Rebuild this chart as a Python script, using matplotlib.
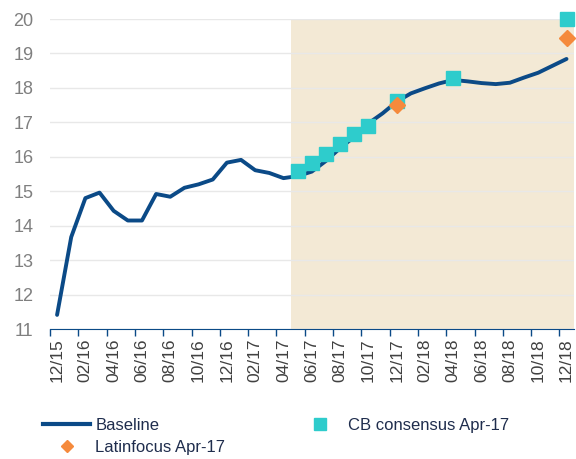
import numpy as np
import matplotlib.pyplot as plt
from matplotlib.lines import Line2D

plt.rcParams['font.family'] = ['Liberation Sans', 'DejaVu Sans']

# monthly categories 12/15 .. 12/18
months = ["12/15", "01/16", "02/16", "03/16", "04/16", "05/16", "06/16", "07/16",
          "08/16", "09/16", "10/16", "11/16", "12/16", "01/17", "02/17", "03/17",
          "04/17", "05/17", "06/17", "07/17", "08/17", "09/17", "10/17", "11/17",
          "12/17", "01/18", "02/18", "03/18", "04/18", "05/18", "06/18", "07/18",
          "08/18", "09/18", "10/18", "11/18", "12/18"]

baseline = [11.41, 13.67, 14.80, 14.96, 14.43, 14.15, 14.15, 14.92, 14.84, 15.10,
            15.20, 15.34, 15.83, 15.91, 15.61, 15.53, 15.38, 15.44, 15.57, 15.88,
            16.25, 16.58, 16.97, 17.26, 17.60, 17.84, 17.99, 18.13, 18.23, 18.19,
            18.14, 18.11, 18.15, 18.30, 18.44, 18.64, 18.84]

cb_months = ["05/17", "06/17", "07/17", "08/17", "09/17", "10/17", "12/17", "04/18", "12/18"]
cb_values = [15.60, 15.81, 16.09, 16.38, 16.67, 16.90, 17.62, 18.30, 20.0]

lf_months = ["12/17", "12/18"]
lf_values = [17.49, 19.45]

forecast_start = "05/17"

navy = "#0B4A87"
teal = "#2ECCCC"
orange = "#F58A3C"
shade = "#F3E9D5"

x = np.arange(len(months))
idx = {m: i for i, m in enumerate(months)}

fig = plt.figure(figsize=(5.76, 4.59), dpi=100)
ax = fig.add_axes([0.0868, 0.2832, 0.9090, 0.6754])

ax.axvspan(idx[forecast_start] - 0.5, len(months) - 0.5, color=shade, lw=0, zorder=0)
ax.plot(x, baseline, color=navy, lw=2.8, zorder=3, solid_capstyle='round', clip_on=False)
ax.plot([idx[m] for m in cb_months], cb_values, 's', color=teal, ms=10, zorder=4, clip_on=False)
ax.plot([idx[m] for m in lf_months], lf_values, 'D', color=orange, ms=8.5, zorder=5, clip_on=False)

ax.set_xlim(-0.5, len(months) - 0.5)
ax.set_ylim(11, 20)
ax.set_yticks(range(11, 21))
ax.yaxis.grid(True, color="#E8E8E8", lw=1)
ax.set_axisbelow(True)
ax.tick_params(axis='y', length=0, pad=12, labelsize=13, labelcolor="#7F7F7F")

ax.set_xticks(x[::2])
ax.set_xticklabels(months[::2], rotation=90)
ax.set_xticks(np.arange(-0.5, len(months) - 1, 2), minor=True)
ax.tick_params(axis='x', which='major', length=0, pad=7, labelsize=12.5, labelcolor="#404040")
ax.tick_params(axis='x', which='minor', length=5, color=navy, width=1)

for s in ['top', 'right', 'left']:
    ax.spines[s].set_visible(False)
ax.spines['bottom'].set_color(navy)

handles = [Line2D([], [], color=navy, lw=3),
           Line2D([], [], marker='D', color=orange, ls='none', ms=6),
           Line2D([], [], marker='s', color=teal, ls='none', ms=8)]
labels = ["Baseline", "Latinfocus Apr-17", "CB consensus Apr-17"]
fig.legend(handles, labels, ncol=2, loc='upper left', bbox_to_anchor=(0.061, 0.108),
           frameon=False, fontsize=12, handlelength=2.8, handletextpad=0.3,
           columnspacing=4.3, labelspacing=0.45, borderpad=0, labelcolor="#1F2D4D")

fig.savefig("out.png", dpi=100)
